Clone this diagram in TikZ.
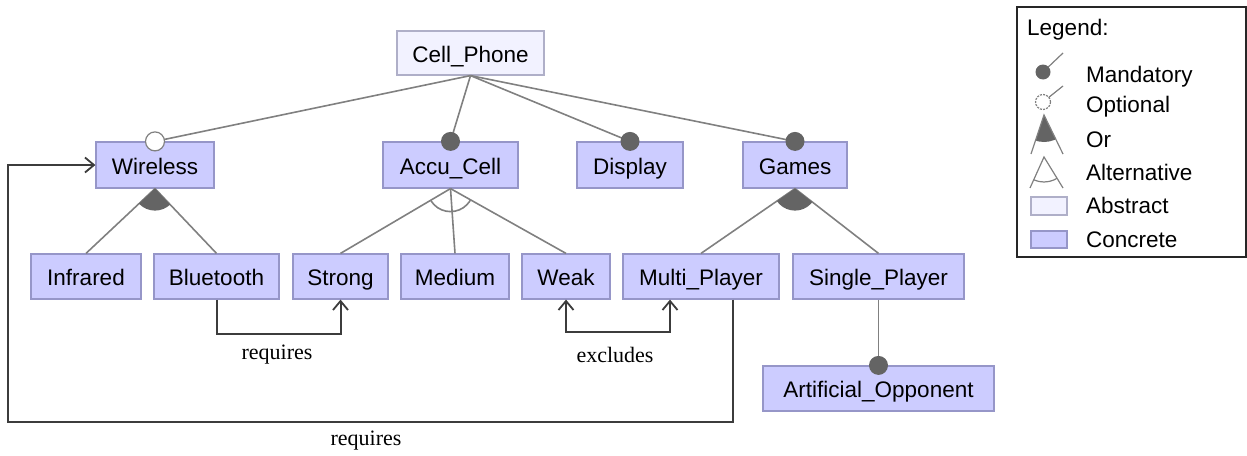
\documentclass[tikz,border=0pt]{standalone}
\usepackage{fontspec}
\setmainfont{Liberation Sans}
\newfontfamily\labelfont{Liberation Serif}
\usetikzlibrary{arrows.meta,calc}
\definecolor{conc}{RGB}{204,204,255}
\definecolor{concb}{RGB}{150,150,200}
\definecolor{abst}{RGB}{242,242,255}
\definecolor{abstb}{RGB}{175,175,200}
\definecolor{treeline}{RGB}{128,128,128}
\definecolor{mand}{RGB}{100,100,100}
\definecolor{consc}{RGB}{60,60,60}
\tikzset{
 feat/.style={draw=concb, fill=conc, line width=1.2pt, minimum height=45pt, inner sep=0pt, text height=18pt, text depth=0pt, font=\fontsize{22.5}{27}\selectfont},
 absf/.style={feat, draw=abstb, fill=abst},
 tree/.style={draw=treeline, line width=1.6pt},
 cons/.style={draw=consc, line width=2pt},
 barb/.tip={Straight Barb[length=9pt,width=15pt,line width=1.8pt]},
 mandc/.style={circle, fill=mand, inner sep=0pt, minimum size=19pt},
 optc/.style={circle, fill=white, draw=treeline, line width=1.2pt, inner sep=0pt, minimum size=19pt},
 lbl/.style={font=\labelfont\fontsize{22}{26}\selectfont, inner sep=0pt},
 leg/.style={anchor=west, font=\fontsize{22.5}{27}\selectfont, inner sep=0pt, text height=18pt, text depth=0pt},
}
\begin{document}
\begin{tikzpicture}[x=1pt,y=-1pt]
\useasboundingbox (0,0) rectangle (1247,455);
% features
\node[absf, minimum width=147pt, minimum height=44pt] (cp) at (470.5,53) {Cell\_Phone};
\node[feat, minimum width=118pt, minimum height=46pt] (wl) at (155,165) {Wireless};
\node[feat, minimum width=135pt, minimum height=46pt] (accu) at (450.5,165) {Accu\_Cell};
\node[feat, minimum width=106pt, minimum height=46pt] (disp) at (630,165) {Display};
\node[feat, minimum width=104pt, minimum height=46pt] (games) at (795,165) {Games};
\node[feat, minimum width=110pt] (inf) at (86,276.5) {Infrared};
\node[feat, minimum width=125pt] (bt) at (216.5,276.5) {Bluetooth};
\node[feat, minimum width=95pt] (str) at (340.5,276.5) {Strong};
\node[feat, minimum width=108pt] (med) at (455,276.5) {Medium};
\node[feat, minimum width=88pt] (weak) at (566,276.5) {Weak};
\node[feat, minimum width=156pt] (multi) at (701,276.5) {Multi\_Player};
\node[feat, minimum width=171pt] (single) at (878.5,276.5) {Single\_Player};
\node[feat, minimum width=231pt] (ai) at (878.5,388.5) {Artificial\_Opponent};
% tree edges
\draw[tree] (cp.south) -- (wl.north);
\draw[tree] (cp.south) -- (accu.north);
\draw[tree] (cp.south) -- (disp.north);
\draw[tree] (cp.south) -- (games.north);
\draw[tree] (wl.south) -- (inf.north);
\draw[tree] (wl.south) -- (bt.north);
\draw[tree] (accu.south) -- (str.north);
\draw[tree] (accu.south) -- (med.north);
\draw[tree] (accu.south) -- (weak.north);
\draw[tree] (games.south) -- (multi.north);
\draw[tree] (games.south) -- (single.north);
\draw[tree] (single.south) -- (ai.north);
% or / alternative groups
\begin{scope}
\clip (wl.south) -- ($(wl.south)!80pt!(inf.north)$) -- ($(wl.south)!80pt!(bt.north)$) -- cycle;
\fill[mand] (wl.south) circle[radius=22pt];
\end{scope}
\begin{scope}
\clip (games.south) -- ($(games.south)!80pt!(multi.north)$) -- ($(games.south)!80pt!(single.north)$) -- cycle;
\fill[mand] (games.south) circle[radius=22pt];
\end{scope}
\begin{scope}
\clip (accu.south) -- ($(accu.south)!90pt!(str.north)$) -- ($(accu.south)!90pt!(weak.north)$) -- cycle;
\draw[tree] (accu.south) circle[radius=23pt];
\end{scope}
% mandatory / optional markers
\node[optc] (owl) at (wl.north) {};
\node[mandc] (maccu) at (accu.north) {};
\node[mandc] (mdisp) at (disp.north) {};
\node[mandc] (mgames) at (games.north) {};
\node[mandc] (mai) at (ai.north) {};
% constraints
\draw[cons,-barb] (bt.south) -- ++(0,34) -| (str.south);
\coordinate (mx) at ($(multi.south)+(-31,0)$);
\draw[cons,barb-barb] (weak.south) -- ++(0,32) -| (mx);
\coordinate (mr) at ($(multi.south)+(32,0)$);
\coordinate (corner) at (8,422);
\draw[cons,-barb] (mr) |- (corner) |- (wl.west);
\node[lbl] (rq1) at (277,355) {requires};
\node[lbl] (ex) at (615,355) {excludes};
\node[lbl] (rq2) at (366,441) {requires};
% legend
\node[draw=black!85, line width=1.5pt, minimum width=229pt, minimum height=250pt, inner sep=0pt] (legend) at (1131.5,132) {};
\node[leg] (lt) at (1027,26) {Legend:};
\node[leg] (lmt) at (1086,73) {Mandatory};
\node[leg] (lot) at (1086,103) {Optional};
\node[leg] (lort) at (1086,138) {Or};
\node[leg] (lat) at (1086,171) {Alternative};
\node[leg] (labt) at (1086,204) {Abstract};
\node[leg] (lct) at (1086,238) {Concrete};
% legend icons
\coordinate (lm2) at (1063,53);
\draw[tree, line width=1.2pt] (1043,72) -- (lm2);
\node[mandc, minimum size=15pt] (lm) at (1043,72) {};
\coordinate (lo2) at (1063,86);
\draw[tree, line width=1.2pt] (1043,102) -- (lo2);
\node[optc, minimum size=15pt, dash pattern=on 2pt off 1.2pt] (lo) at (1043,102) {};
\coordinate (lor) at (1044,115);
\coordinate (lorl) at (1031,154);
\coordinate (lorr) at (1063,154);
\begin{scope}
\clip (lor) -- ($(lor)!60pt!(lorl)$) -- ($(lor)!60pt!(lorr)$) -- cycle;
\fill[mand] (lor) circle[radius=27pt];
\end{scope}
\draw[tree, line width=1.2pt] (lorl) -- (lor) -- (lorr);
\coordinate (lal) at (1044,157);
\coordinate (lall) at (1030,188);
\coordinate (lalr) at (1063,188);
\begin{scope}
\clip (lal) -- ($(lal)!60pt!(lall)$) -- ($(lal)!60pt!(lalr)$) -- cycle;
\draw[tree, line width=1.2pt] (lal) circle[radius=25pt];
\end{scope}
\draw[tree, line width=1.2pt] (lall) -- (lal) -- (lalr);
\node[absf, minimum width=36pt, minimum height=18pt, text height=0pt, text depth=0pt] (labs) at (1049,206) {};
\node[feat, minimum width=36pt, minimum height=17pt, text height=0pt, text depth=0pt] (lcon) at (1049,239.5) {};
\end{tikzpicture}
\end{document}
